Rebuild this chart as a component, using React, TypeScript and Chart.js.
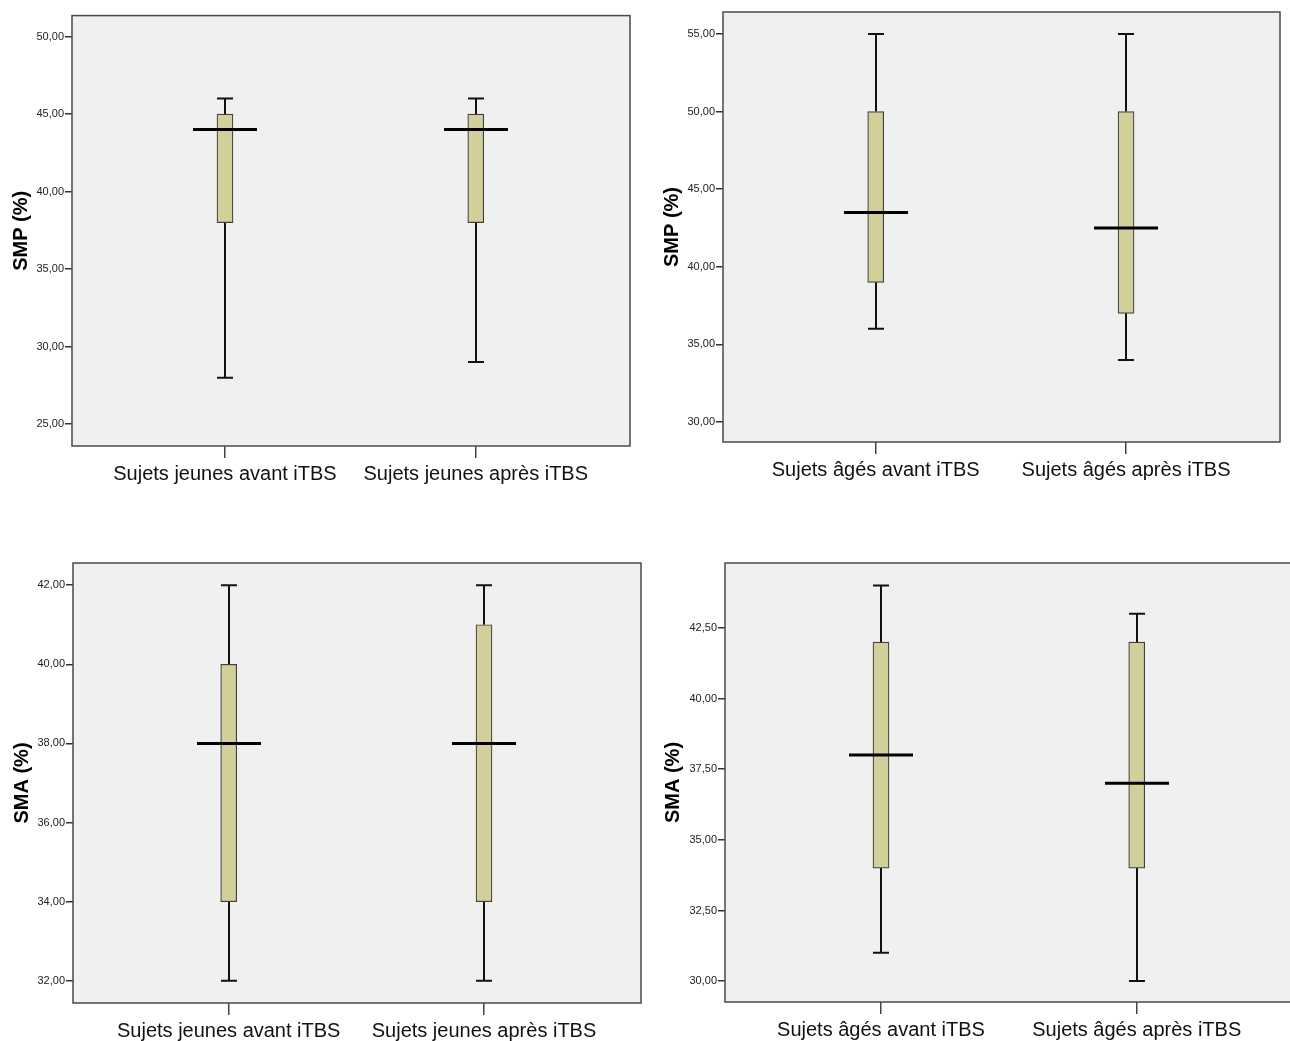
import React, { useEffect, useRef } from 'react';
import { Chart, registerables } from 'chart.js';

Chart.register(...registerables);

const FONT = '"Liberation Sans", Arial, Helvetica, sans-serif';

// ---------- data ----------
const youngLabels = ['Sujets jeunes avant iTBS', 'Sujets jeunes après iTBS'];
const olderLabels = ['Sujets âgés avant iTBS', 'Sujets âgés après iTBS'];

const smpYoungMin = [28, 29];
const smpYoungQ1 = [38, 38];
const smpYoungMedian = [44, 44];
const smpYoungQ3 = [45, 45];
const smpYoungMax = [46, 46];
const smpYoungTicks = [25, 30, 35, 40, 45, 50];

const smpOlderMin = [36, 34];
const smpOlderQ1 = [39, 37];
const smpOlderMedian = [43.5, 42.5];
const smpOlderQ3 = [50, 50];
const smpOlderMax = [55, 55];
const smpOlderTicks = [30, 35, 40, 45, 50, 55];

const smaYoungMin = [32, 32];
const smaYoungQ1 = [34, 34];
const smaYoungMedian = [38, 38];
const smaYoungQ3 = [40, 41];
const smaYoungMax = [42, 42];
const smaYoungTicks = [32, 34, 36, 38, 40, 42];

const smaOlderMin = [31, 30];
const smaOlderQ1 = [34, 34];
const smaOlderMedian = [38, 37];
const smaOlderQ3 = [42, 42];
const smaOlderMax = [44, 43];
const smaOlderTicks = [30, 32.5, 35, 37.5, 40, 42.5];

// ---------- styles ----------
const BG = '#f0f0f0';
const FRAME = '#4a4a4a';
const BOX_FILL = '#d3cf98';
const BOX_BORDER = '#404040';
const BOX_W = 16;
const MEDIAN_W = 64;

type PanelProps = {
  labels: string[];
  mins: number[];
  q1s: number[];
  medians: number[];
  q3s: number[];
  maxs: number[];
  ticks: number[];
  title: string;
  yMin: number;
  yMax: number;
  left: number;
  top: number;
  width: number;
  height: number;
  yAxisWidth: number;
  xAxisHeight: number;
  padTop: number;
  padRight: number;
  titlePad: number;
};

function fmt(v: number) {
  return Number(v).toFixed(2).replace('.', ',');
}

function BoxPanel(p: PanelProps) {
  const ref = useRef<HTMLCanvasElement | null>(null);
  useEffect(() => {
    if (!ref.current) return;
    const plugin = {
      id: 'boxExtras',
      beforeDraw(chart: any) {
        const { ctx, chartArea: a } = chart;
        ctx.save();
        ctx.fillStyle = BG;
        ctx.fillRect(a.left, a.top, a.right - a.left, a.bottom - a.top);
        ctx.restore();
      },
      beforeDatasetsDraw(chart: any) {
        const { ctx } = chart;
        const xs = chart.scales.x;
        const ys = chart.scales.y;
        ctx.save();
        ctx.strokeStyle = '#111';
        ctx.lineWidth = 2;
        p.labels.forEach((_, i) => {
          const x = Math.round(xs.getPixelForValue(i + 1));
          const yMinP = ys.getPixelForValue(p.mins[i]);
          const yQ1 = ys.getPixelForValue(p.q1s[i]);
          const yQ3 = ys.getPixelForValue(p.q3s[i]);
          const yMaxP = ys.getPixelForValue(p.maxs[i]);
          ctx.beginPath();
          ctx.moveTo(x, yMinP);
          ctx.lineTo(x, yQ1);
          ctx.moveTo(x, yQ3);
          ctx.lineTo(x, yMaxP);
          ctx.moveTo(x - BOX_W / 2, yMinP);
          ctx.lineTo(x + BOX_W / 2, yMinP);
          ctx.moveTo(x - BOX_W / 2, yMaxP);
          ctx.lineTo(x + BOX_W / 2, yMaxP);
          ctx.stroke();
        });
        ctx.restore();
      },
      afterDatasetsDraw(chart: any) {
        const { ctx } = chart;
        const xs = chart.scales.x;
        const ys = chart.scales.y;
        ctx.save();
        ctx.strokeStyle = '#000';
        ctx.lineWidth = 3;
        p.labels.forEach((_, i) => {
          const x = Math.round(xs.getPixelForValue(i + 1));
          const y = ys.getPixelForValue(p.medians[i]);
          ctx.beginPath();
          ctx.moveTo(x - MEDIAN_W / 2, y);
          ctx.lineTo(x + MEDIAN_W / 2, y);
          ctx.stroke();
        });
        ctx.restore();
      },
      afterDraw(chart: any) {
        const { ctx, chartArea: a } = chart;
        ctx.save();
        ctx.strokeStyle = FRAME;
        ctx.lineWidth = 1.5;
        ctx.strokeRect(a.left, a.top, a.right - a.left, a.bottom - a.top);
        ctx.restore();
      },
    };

    const chart = new Chart(ref.current, {
      type: 'bar',
      data: {
        datasets: [
          {
            data: p.labels.map((_, i) => ({ x: i + 1, y: [p.q1s[i], p.q3s[i]] })) as any,
            backgroundColor: BOX_FILL,
            borderColor: BOX_BORDER,
            borderWidth: 1.2,
            borderSkipped: false,
            barThickness: BOX_W,
          },
        ],
      },
      options: {
        animation: false,
        responsive: false,
        events: [],
        layout: { padding: { top: p.padTop, right: p.padRight, left: 0, bottom: 0 } },
        plugins: { legend: { display: false }, tooltip: { enabled: false }, title: { display: false } },
        scales: {
          x: {
            type: 'linear',
            min: 0.39,
            max: 2.615,
            offset: false,
            afterBuildTicks: (scale: any) => {
              scale.ticks = p.labels.map((_, i) => ({ value: i + 1 }));
            },
            afterFit: (scale: any) => {
              scale.height = p.xAxisHeight;
            },
            border: { display: false },
            grid: {
              display: true,
              offset: false,
              drawOnChartArea: false,
              drawTicks: true,
              tickLength: 12,
              tickColor: '#444',
              lineWidth: 1.5,
            },
            ticks: {
              autoSkip: false,
              maxRotation: 0,
              padding: 4,
              color: '#111',
              font: { family: FONT, size: 20 },
              callback: (v: any) => p.labels[Math.round(Number(v)) - 1] ?? '',
            },
          },
          y: {
            type: 'linear',
            min: p.yMin,
            max: p.yMax,
            afterBuildTicks: (scale: any) => {
              scale.ticks = p.ticks.map((v) => ({ value: v }));
            },
            afterFit: (scale: any) => {
              scale.width = p.yAxisWidth;
            },
            border: { display: false },
            grid: {
              display: true,
              drawOnChartArea: false,
              drawTicks: true,
              tickLength: 7,
              tickColor: '#333',
              lineWidth: 1.5,
            },
            ticks: {
              padding: 1,
              color: '#222',
              font: { family: FONT, size: 11 },
              callback: (v: any) => fmt(Number(v)),
            },
            title: {
              display: true,
              text: p.title,
              color: '#000',
              font: { family: FONT, size: 20, weight: 'bold', lineHeight: 1.2 },
              padding: { top: p.titlePad, bottom: 0 },
            },
          },
        },
      },
      plugins: [plugin],
    } as any);
    return () => chart.destroy();
  }, []);

  return (
    <canvas
      ref={ref}
      width={p.width}
      height={p.height}
      style={{ position: 'absolute', left: p.left, top: p.top, width: p.width, height: p.height, display: 'block' }}
    />
  );
}

export default function App() {
  return (
    <div
      style={{
        position: 'absolute',
        left: 0,
        top: 0,
        width: 1290,
        height: 1041,
        overflow: 'hidden',
        background: '#fff',
      }}
    >
      <BoxPanel
        labels={youngLabels}
        mins={smpYoungMin}
        q1s={smpYoungQ1}
        medians={smpYoungMedian}
        q3s={smpYoungQ3}
        maxs={smpYoungMax}
        ticks={smpYoungTicks}
        title="SMP (%)"
        yMin={23.59}
        yMax={51.35}
        left={0}
        top={8}
        width={640}
        height={478}
        yAxisWidth={72}
        xAxisHeight={40}
        padTop={6}
        padRight={10}
        titlePad={9}
      />
      <BoxPanel
        labels={olderLabels}
        mins={smpOlderMin}
        q1s={smpOlderQ1}
        medians={smpOlderMedian}
        q3s={smpOlderQ3}
        maxs={smpOlderMax}
        ticks={smpOlderTicks}
        title="SMP (%)"
        yMin={28.71}
        yMax={56.42}
        left={650}
        top={4}
        width={640}
        height={478}
        yAxisWidth={73}
        xAxisHeight={40}
        padTop={8}
        padRight={10}
        titlePad={10}
      />
      <BoxPanel
        labels={youngLabels}
        mins={smaYoungMin}
        q1s={smaYoungQ1}
        medians={smaYoungMedian}
        q3s={smaYoungQ3}
        maxs={smaYoungMax}
        ticks={smaYoungTicks}
        title="SMA (%)"
        yMin={31.44}
        yMax={42.56}
        left={0}
        top={555}
        width={650}
        height={486}
        yAxisWidth={73}
        xAxisHeight={38}
        padTop={8}
        padRight={9}
        titlePad={10}
      />
      <BoxPanel
        labels={olderLabels}
        mins={smaOlderMin}
        q1s={smaOlderQ1}
        medians={smaOlderMedian}
        q3s={smaOlderQ3}
        maxs={smaOlderMax}
        ticks={smaOlderTicks}
        title="SMA (%)"
        yMin={29.26}
        yMax={44.8}
        left={650}
        top={555}
        width={650}
        height={486}
        yAxisWidth={75}
        xAxisHeight={39}
        padTop={8}
        padRight={6}
        titlePad={11}
      />
    </div>
  );
}
